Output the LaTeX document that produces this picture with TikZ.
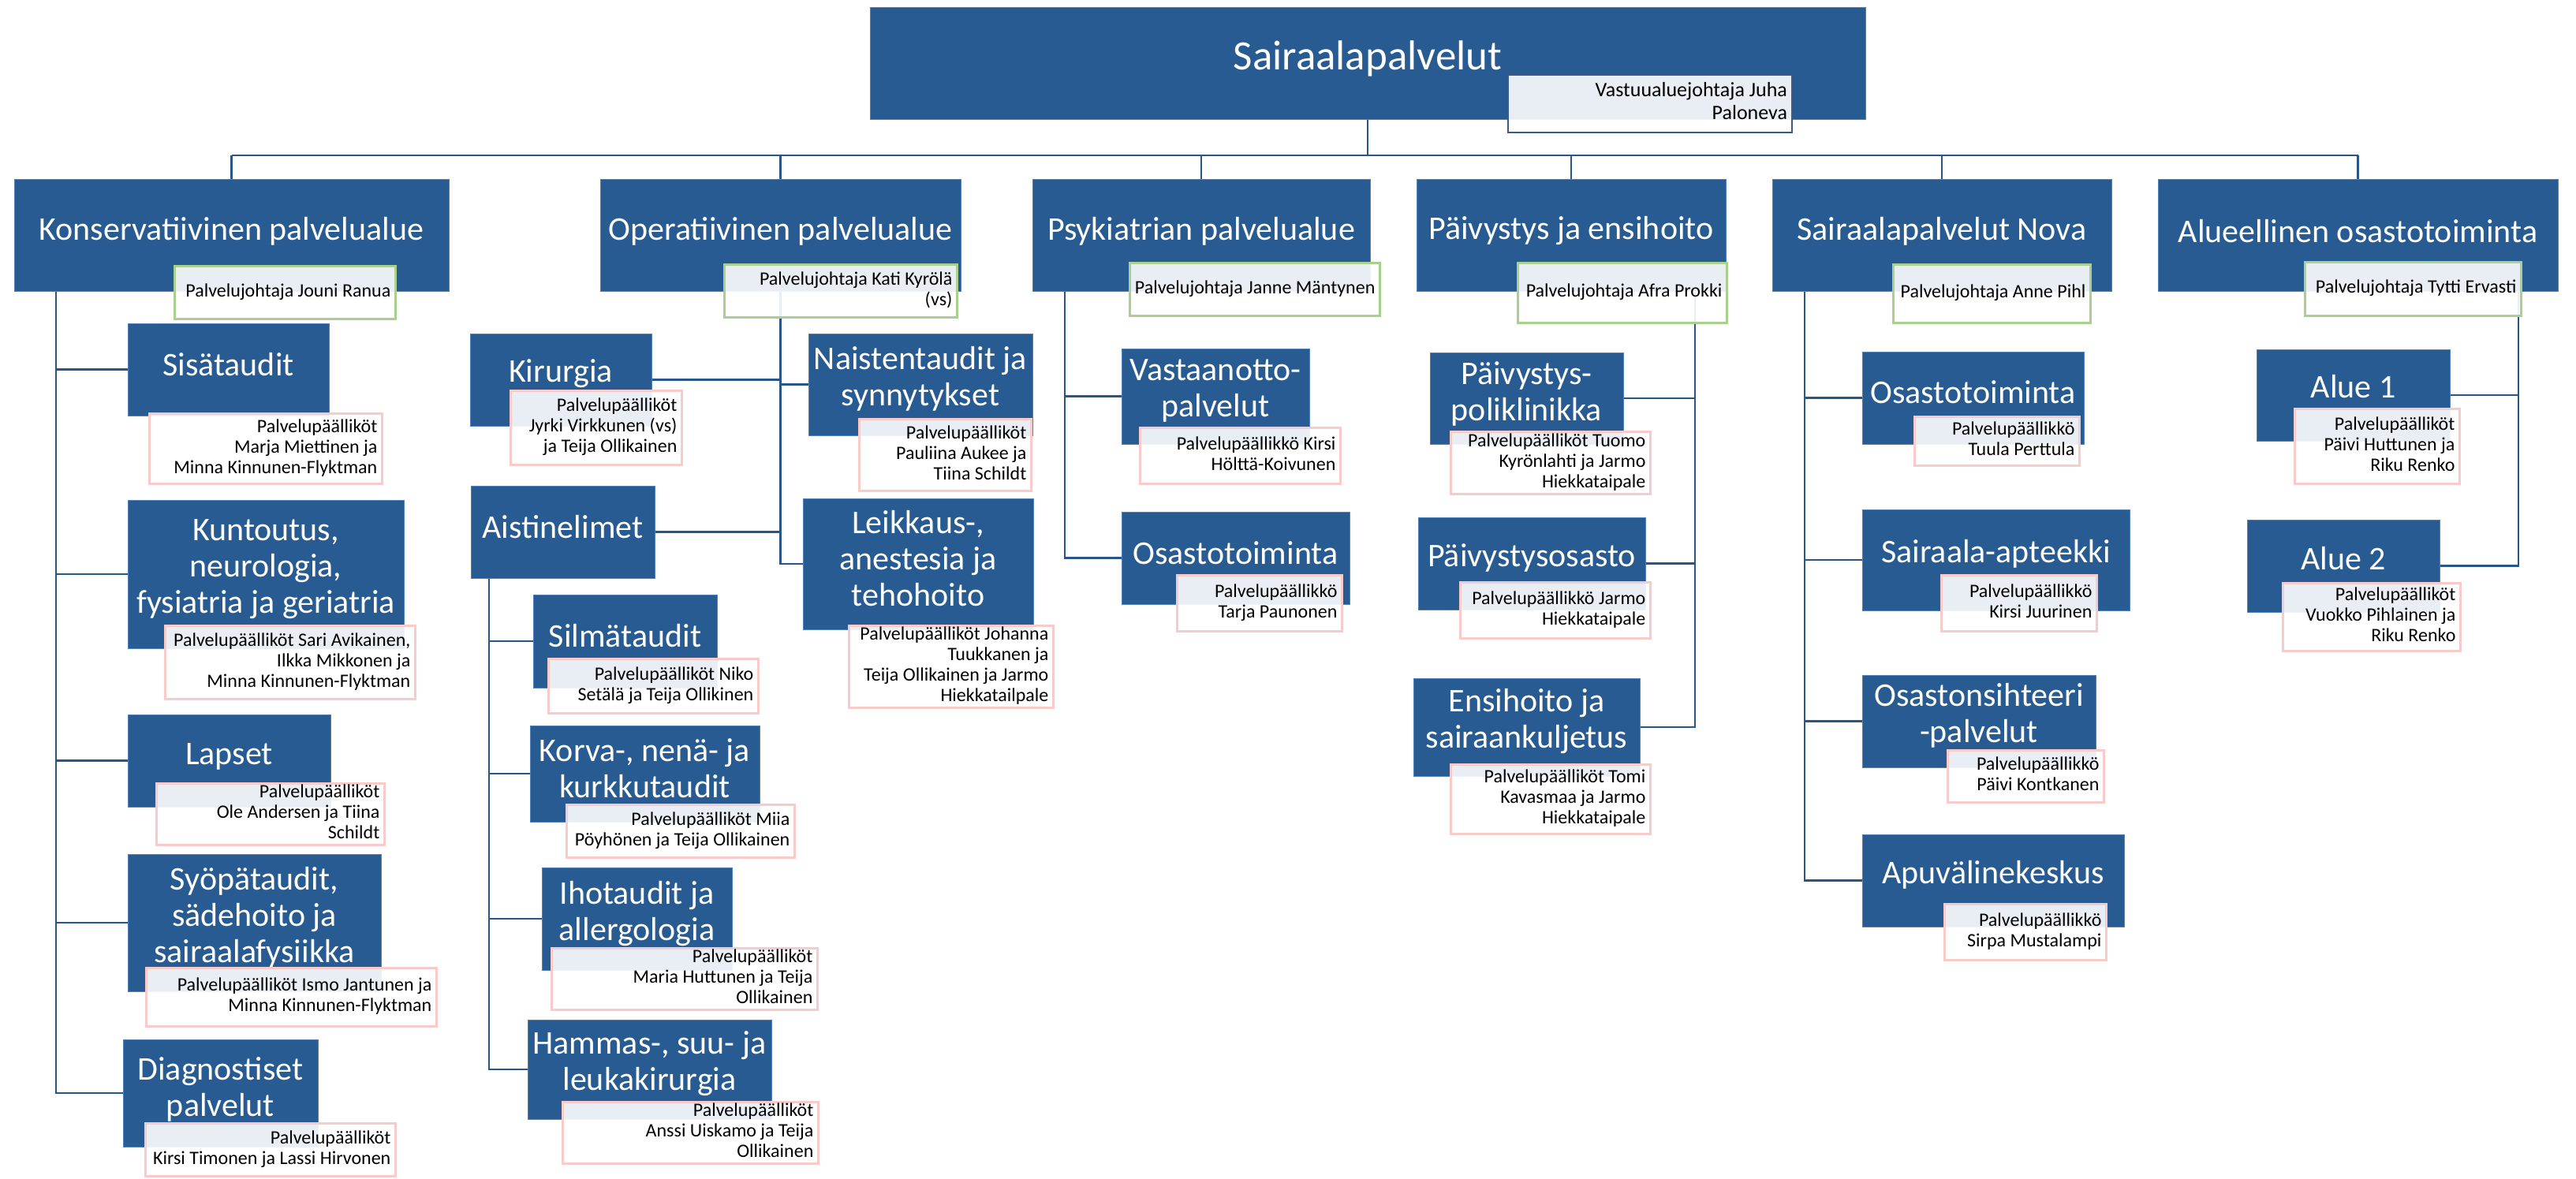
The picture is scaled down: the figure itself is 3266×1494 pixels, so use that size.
\documentclass[tikz,border=0pt]{standalone}
\usepackage{fontspec}
\setmainfont{Carlito}
\usetikzlibrary{fit,backgrounds,calc}
\definecolor{boxblue}{RGB}{39,91,145}
\definecolor{boxedge}{RGB}{79,129,189}
\definecolor{connblue}{RGB}{40,86,136}
\definecolor{greenedge}{RGB}{169,208,142}
\definecolor{pinkedge}{RGB}{248,203,203}
\definecolor{topedge}{RGB}{60,92,135}
\tikzset{
  bluebox/.style={fill=boxblue, draw=boxedge, line width=0.5pt, inner sep=0pt},
  btext/.style={text=white, align=center, inner sep=0pt, font=\fontsize{21}{23}\selectfont},
  ttext/.style={text=white, align=center, inner sep=0pt, font=\fontsize{26.5}{30}\selectfont},
  lblbase/.style={fill=white, fill opacity=0.9, text opacity=1, line width=1.4pt,
    inner xsep=3pt, inner ysep=0pt, text=black, font=\fontsize{12}{13}\selectfont},
  greenlbl/.style={lblbase, draw=greenedge},
  pinklbl/.style={lblbase, draw=pinkedge},
  toplbl/.style={lblbase, draw=topedge, line width=1pt, font=\fontsize{13}{14.5}\selectfont},
  conn/.style={draw=connblue, line width=1.3pt}
}
\newcommand\bbox[7]{%
  \node[bluebox, fit={(#2,#3) (#4,#5)}] (#1) {};
  \node[btext] (#1-t) at ({(#2+#4)/2},#6) {#7};
}
\newcommand\lbox[7]{%
  \pgfmathsetmacro\lbw{(#5-#3)*0.5}%
  \pgfmathsetmacro\lbh{(#6-#4)*0.5}%
  \pgfmathsetmacro\lbt{(#5-#3)*0.5-6}%
  \node[#1, anchor=north west, minimum width=\lbw pt, minimum height=\lbh pt] (#2) at (#3,#4)
    {\makebox[\lbt pt][r]{\begin{tabular}{@{}r@{}}#7\end{tabular}}};
}
\begin{document}
\begin{tikzpicture}[x=0.5pt,y=-0.5pt]
\useasboundingbox (0,0) rectangle (3266,1494);

% ---- top
\node[bluebox, fit={(1103,9) (2365,151)}] (top) {};
\node[ttext] (top-t) at (1734,74) {Sairaalapalvelut};

% ---- level 1
\bbox{k1}{18}{227}{569}{369}{293}{Konservatiivinen palvelualue}
\bbox{o1}{761}{227}{1218}{369}{293}{Operatiivinen palvelualue}
\bbox{ps1}{1309}{227}{1737}{369}{293}{Psykiatrian palvelualue}
\bbox{pa1}{1796}{227}{2188}{369}{293}{Päivystys ja ensihoito}
\bbox{n1}{2247}{227}{2677}{369}{293}{Sairaalapalvelut Nova}
\bbox{a1}{2736}{227}{3243}{369}{293}{Alueellinen osastotoiminta}

% ---- level 2: konservatiivinen
\bbox{sis}{162}{410}{417}{527}{462}{Sisätaudit}
\bbox{kun}{162}{634}{512}{822}{722}{Kuntoutus,\\neurologia,\\fysiatria ja geriatria}
\bbox{lap}{162}{906}{419}{1023}{959}{Lapset}
\bbox{syo}{162}{1083}{483}{1257}{1163}{Syöpätaudit,\\sädehoito ja\\sairaalafysiikka}
\bbox{dia}{156}{1318}{403}{1454}{1381}{Diagnostiset\\palvelut}

% ---- operatiivinen
\bbox{kir}{596}{423}{826}{540}{474}{Kirurgia}
\bbox{nai}{1025}{423}{1309}{552}{480}{Naistentaudit ja\\synnytykset}
\bbox{ais}{597}{616}{830}{733}{668}{Aistinelimet}
\bbox{lei}{1018}{632}{1310}{798}{708}{Leikkaus-,\\anestesia ja\\tehohoito}
\bbox{sil}{676}{754}{909}{872}{806}{Silmätaudit}
\bbox{kor}{672}{920}{963}{1042}{974}{Korva-, nenä- ja\\kurkkutaudit}
\bbox{iho}{687}{1100}{928}{1230}{1159}{Ihotaudit ja\\allergologia}
\bbox{ham}{669}{1293}{978}{1419}{1349}{Hammas-, suu- ja\\leukakirurgia}

% ---- psykiatria
\bbox{vas}{1422}{442}{1660}{563}{495}{Vastaanotto-\\palvelut}
\bbox{pso}{1422}{649}{1711}{766}{701}{Osastotoiminta}

% ---- päivystys
\bbox{pol}{1813}{447}{2058}{563}{499}{Päivystys-\\poliklinikka}
\bbox{pos}{1798}{656}{2086}{773}{707}{Päivystysosasto}
\bbox{ens}{1792}{860}{2079}{984}{915}{Ensihoito ja\\sairaankuljetus}

% ---- nova
\bbox{nos}{2361}{446}{2642}{563}{497}{Osastotoiminta}
\bbox{apt}{2361}{646}{2700}{774}{702}{Sairaala-apteekki}
\bbox{sih}{2361}{856}{2657}{973}{907}{Osastonsihteeri\\-palvelut}
\bbox{apu}{2361}{1058}{2693}{1175}{1109}{Apuvälinekeskus}

% ---- alueellinen
\bbox{al1}{2861}{443}{3106}{559}{490}{Alue 1}
\bbox{al2}{2849}{659}{3093}{776}{708}{Alue 2}

% ---- labels
\lbox{toplbl}{Ltop}{1911}{94}{2271}{167}{Vastuualuejohtaja Juha\\Paloneva}

\lbox{greenlbl}{Lk1}{220}{336}{500}{403}{Palvelujohtaja Jouni Ranua}
\lbox{greenlbl}{Lo1}{917}{334}{1212}{401}{Palvelujohtaja Kati Kyrölä\\(vs)}
\lbox{greenlbl}{Lps1}{1431}{332}{1748}{399}{Palvelujohtaja Janne Mäntynen}
\lbox{greenlbl}{Lpa1}{1923}{332}{2188}{408}{Palvelujohtaja Afra Prokki}
\lbox{greenlbl}{Ln1}{2399}{334}{2649}{408}{Palvelujohtaja Anne Pihl}
\lbox{greenlbl}{La1}{2921}{331}{3195}{399}{Palvelujohtaja Tytti Ervasti}

\lbox{pinklbl}{Lsis}{188}{523}{483}{612}{Palvelupäälliköt\\Marja Miettinen ja\\Minna Kinnunen-Flyktman}
\lbox{pinklbl}{Lkun}{208}{792}{525}{885}{Palvelupäälliköt Sari Avikainen,\\Ilkka Mikkonen ja\\Minna Kinnunen-Flyktman}
\lbox{pinklbl}{Llap}{197}{992}{486}{1067}{Palvelupäälliköt\\Ole Andersen ja Tiina\\Schildt}
\lbox{pinklbl}{Lsyo}{184}{1226}{552}{1300}{Palvelupäälliköt Ismo Jantunen ja\\Minna Kinnunen-Flyktman}
\lbox{pinklbl}{Ldia}{183}{1423}{500}{1490}{Palvelupäälliköt\\Kirsi Timonen ja Lassi Hirvonen}

\lbox{pinklbl}{Lkir}{646}{494}{863}{588}{Palvelupäälliköt\\Jyrki Virkkunen (vs)\\ja Teija Ollikainen}
\lbox{pinklbl}{Lnai}{1088}{530}{1306}{621}{Palvelupäälliköt\\Pauliina Aukee ja\\Tiina Schildt}
\lbox{pinklbl}{Llei}{1075}{792}{1334}{896}{Palvelupäälliköt Johanna\\Tuukkanen ja\\Teija Ollikainen ja Jarmo\\Hiekkatailpale}
\lbox{pinklbl}{Lsil}{694}{834}{960}{903}{Palvelupäälliköt Niko\\Setälä ja Teija Ollikinen}
\lbox{pinklbl}{Lkor}{717}{1019}{1006}{1086}{Palvelupäälliköt Miia\\Pöyhönen ja Teija Ollikainen}
\lbox{pinklbl}{Liho}{698}{1201}{1035}{1275}{Palvelupäälliköt\\Maria Huttunen ja Teija\\Ollikainen}
\lbox{pinklbl}{Lham}{712}{1396}{1036}{1470}{Palvelupäälliköt\\Anssi Uiskamo ja Teija\\Ollikainen}

\lbox{pinklbl}{Lvas}{1444}{541}{1698}{612}{Palvelupäällikkö Kirsi\\Hölttä-Koivunen}
\lbox{pinklbl}{Lpso}{1491}{728}{1700}{799}{Palvelupäällikkö\\Tarja Paunonen}

\lbox{pinklbl}{Lpol}{1838}{546}{2091}{625}{Palvelupäälliköt Tuomo\\Kyrönlahti ja Jarmo\\Hiekkataipale}
\lbox{pinklbl}{Lpos}{1850}{737}{2091}{808}{Palvelupäällikkö Jarmo\\Hiekkataipale}
\lbox{pinklbl}{Lens}{1838}{968}{2091}{1056}{Palvelupäälliköt Tomi\\Kavasmaa ja Jarmo\\Hiekkataipale}

\lbox{pinklbl}{Lnos}{2426}{527}{2635}{589}{Palvelupäällikkö\\Tuula Perttula}
\lbox{pinklbl}{Lapt}{2460}{728}{2657}{799}{Palvelupäällikkö\\Kirsi Juurinen}
\lbox{pinklbl}{Lsih}{2468}{950}{2666}{1016}{Palvelupäällikkö\\Päivi Kontkanen}
\lbox{pinklbl}{Lapu}{2464}{1145}{2669}{1216}{Palvelupäällikkö\\Sirpa Mustalampi}

\lbox{pinklbl}{Lal1}{2908}{517}{3117}{612}{Palvelupäälliköt\\Päivi Huttunen ja\\Riku Renko}
\lbox{pinklbl}{Lal2}{2893}{738}{3118}{824}{Palvelupäälliköt\\Vuokko Pihlainen ja\\Riku Renko}

% ---- connectors
\begin{pgfonlayer}{background}
\fill[white] (0,0) rectangle (3266,1494);
\coordinate (bus) at (1734,197);
\draw[conn] (top.south) -- (bus);
\draw[conn] (k1.north |- bus) -- (a1.north |- bus);
\foreach \n in {k1,o1,ps1,pa1,n1,a1} \draw[conn] (\n.north) -- (\n.north |- bus);
% konservatiivinen
\coordinate (ksp) at (71,369);
\draw[conn] (ksp) |- (dia.west);
\foreach \n in {sis,kun,lap,syo} \draw[conn] (\n.west) -- (\n.west -| ksp);
% operatiivinen
\draw[conn] (o1.south) |- (lei.west);
\draw[conn] (nai.west) -- (nai.west -| o1.south);
\draw[conn] (kir.east) -- (kir.east -| o1.south);
\draw[conn] (ais.east) -- (ais.east -| o1.south);
% aistinelimet
\coordinate (asp) at (620,733);
\draw[conn] (asp) |- (ham.west);
\foreach \n in {sil,kor,iho} \draw[conn] (\n.west) -- (\n.west -| asp);
% psykiatria
\coordinate (pssp) at (1350,369);
\draw[conn] (pssp) |- (pso.west);
\draw[conn] (vas.west) -- (vas.west -| pssp);
% päivystys
\coordinate (pasp) at (2149,369);
\draw[conn] (pasp) |- (ens.east);
\foreach \n in {pol,pos} \draw[conn] (\n.east) -- (\n.east -| pasp);
% nova
\coordinate (nsp) at (2288,369);
\draw[conn] (nsp) |- (apu.west);
\foreach \n in {nos,apt,sih} \draw[conn] (\n.west) -- (\n.west -| nsp);
% alueellinen
\coordinate (alsp) at (3193,369);
\draw[conn] (alsp) |- (al2.east);
\draw[conn] (al1.east) -- (al1.east -| alsp);
\end{pgfonlayer}
\end{tikzpicture}
\end{document}
